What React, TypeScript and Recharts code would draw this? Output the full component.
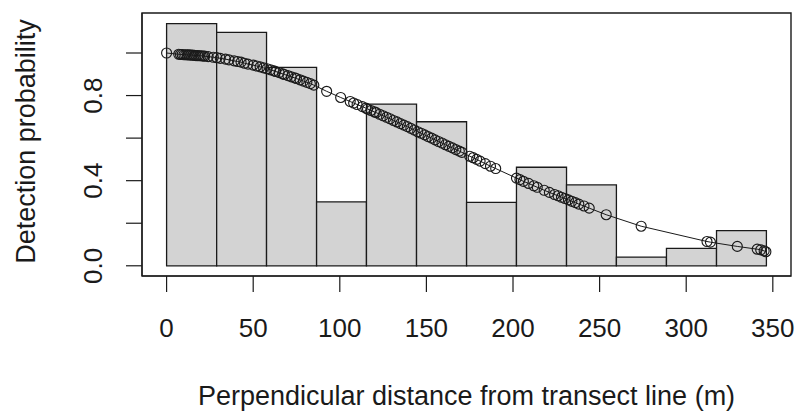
import React from 'react';
import { ComposedChart, Scatter, XAxis, YAxis, ReferenceArea } from 'recharts';

// Histogram of scaled detection counts (bin edges in metres)
const binEdges = [0, 28.9, 57.7, 86.6, 115.4, 144.3, 173.2, 202.0, 230.9, 259.7, 288.6, 317.5, 346.3];
const binHeights = [1.138, 1.097, 0.932, 0.300, 0.760, 0.677, 0.298, 0.463, 0.380, 0.041, 0.082, 0.165];

// Observed perpendicular distances and fitted detection probabilities
const distances = [
  0, 7, 8, 9, 10, 11, 12, 13, 14, 15, 16, 17, 18, 19, 20, 21, 22, 24, 27, 29, 31, 34, 36, 39, 41, 43, 45, 47,
  50, 52, 54, 56, 58, 60, 62, 63, 65, 67, 68, 70, 72, 74, 75, 77, 79, 81, 83, 85, 92.4, 100.5, 106, 108, 110,
  113, 115, 116, 118, 120, 121, 123, 125, 127, 129, 131, 133, 135, 137, 139, 141, 143, 145, 147, 149, 151, 153,
  155, 157, 159, 161, 163, 165, 167, 169, 170.5, 175, 177, 179, 181, 184, 187, 190, 202, 204, 206, 209, 212,
  214, 218, 221, 224, 226, 228, 230, 232, 234, 236, 238, 241, 244, 253.8, 274, 312, 314, 329.5, 341, 343, 345,
  346,
];
const detProb = [
  1.0, 0.994, 0.993, 0.993, 0.992, 0.992, 0.991, 0.991, 0.99, 0.99, 0.989, 0.988, 0.988, 0.987, 0.987, 0.986,
  0.985, 0.983, 0.98, 0.978, 0.975, 0.971, 0.968, 0.963, 0.96, 0.957, 0.952, 0.948, 0.943, 0.939, 0.935, 0.93,
  0.926, 0.921, 0.916, 0.913, 0.908, 0.902, 0.899, 0.894, 0.888, 0.883, 0.88, 0.874, 0.868, 0.862, 0.856, 0.849,
  0.82, 0.791, 0.772, 0.765, 0.758, 0.748, 0.741, 0.737, 0.73, 0.723, 0.72, 0.712, 0.705, 0.698, 0.691, 0.683,
  0.676, 0.668, 0.661, 0.654, 0.646, 0.638, 0.63, 0.623, 0.615, 0.607, 0.6, 0.592, 0.584, 0.577, 0.569, 0.561,
  0.554, 0.546, 0.539, 0.533, 0.515, 0.508, 0.5, 0.492, 0.48, 0.468, 0.457, 0.412, 0.405, 0.397, 0.387, 0.376,
  0.369, 0.355, 0.345, 0.335, 0.329, 0.322, 0.316, 0.31, 0.303, 0.297, 0.29, 0.281, 0.271, 0.24, 0.186, 0.114,
  0.111, 0.091, 0.078, 0.075, 0.07, 0.066,
];

const xTicks = [0, 50, 100, 150, 200, 250, 300, 350];
const yTicks = [0, 0.2, 0.4, 0.6, 0.8, 1.0];
const yTickLabels = ['0.0', '', '0.4', '', '0.8', ''];

const xTitle = 'Perpendicular distance from transect line (m)';
const yTitle = 'Detection probability';

const points = distances.map((d, i) => ({ x: d, y: detProb[i] }));

const FONT = '"Liberation Sans", Arial, sans-serif';
const INK = '#1a1a1a';
const xDomain: [number, number] = [-14.2, 360.5];
const yDomain: [number, number] = [-0.048, 1.188];

const XTick = (props: any) => {
  const { x, y, payload } = props;
  return (
    <text x={x} y={y + 44.7} textAnchor="middle" fontFamily={FONT} fontSize={26} fill={INK}>
      {String(payload.value)}
    </text>
  );
};

const YTick = (props: any) => {
  const { x, y, payload } = props;
  const idx = yTicks.indexOf(payload.value);
  const label = idx >= 0 ? yTickLabels[idx] : '';
  if (!label) return null;
  const bx = x - 24.3;
  return (
    <text
      x={bx}
      y={y}
      transform={`rotate(-90 ${bx} ${y})`}
      textAnchor="middle"
      fontFamily={FONT}
      fontSize={26}
      fill={INK}
    >
      {label}
    </text>
  );
};

const Circle = (props: any) => {
  const { cx, cy } = props;
  if (cx == null || cy == null) return null;
  return <circle cx={cx} cy={cy} r={5} fill="none" stroke={INK} strokeWidth={1.15} />;
};

export default function App() {
  return (
    <div style={{ position: 'absolute', left: 8, top: 8, width: 790, height: 405 }}>
      <ComposedChart
        width={790}
        height={405}
        data={points}
        margin={{ top: 5, right: 7, left: 0, bottom: 0 }}
      >
        <XAxis
          xAxisId="bottom"
          dataKey="x"
          type="number"
          domain={xDomain}
          ticks={xTicks}
          allowDataOverflow
          height={137}
          tickSize={16}
          tickMargin={0}
          tick={<XTick />}
          tickLine={{ stroke: INK, strokeWidth: 1.2 }}
          axisLine={{ stroke: INK, strokeWidth: 1.2 }}
          label={{
            content: (p: any) => {
              const vb = p.viewBox || { x: 134, y: 268, width: 649, height: 137 };
              const cx = vb.x + vb.width / 2;
              return (
                <text x={cx} y={vb.y + 129} textAnchor="middle" fontFamily={FONT} fontSize={27} fill={INK}>
                  {xTitle}
                </text>
              );
            },
          }}
        />
        <YAxis
          yAxisId="left"
          type="number"
          domain={yDomain}
          ticks={yTicks}
          allowDataOverflow
          width={134}
          tickSize={16}
          tickMargin={0}
          tick={<YTick />}
          tickLine={{ stroke: INK, strokeWidth: 1.2 }}
          axisLine={{ stroke: INK, strokeWidth: 1.2 }}
          label={{
            content: (p: any) => {
              const vb = p.viewBox || { x: 0, y: 5, width: 134, height: 263 };
              const lx = vb.x + 27;
              const ly = vb.y + vb.height / 2 - 3;
              return (
                <text
                  x={lx}
                  y={ly}
                  transform={`rotate(-90 ${lx} ${ly})`}
                  textAnchor="middle"
                  fontFamily={FONT}
                  fontSize={27}
                  fill={INK}
                >
                  {yTitle}
                </text>
              );
            },
          }}
        />
        {/* plot frame (R box) */}
        <ReferenceArea
          xAxisId="bottom"
          yAxisId="left"
          x1={xDomain[0]}
          x2={xDomain[1]}
          y1={yDomain[0]}
          y2={yDomain[1]}
          fill="none"
          stroke={INK}
          strokeWidth={1.4}
          ifOverflow="visible"
        />
        {binHeights.map((h, i) => (
          <ReferenceArea
            key={i}
            xAxisId="bottom"
            yAxisId="left"
            x1={binEdges[i]}
            x2={binEdges[i + 1]}
            y1={0}
            y2={h}
            fill="#d3d3d3"
            fillOpacity={1}
            stroke={INK}
            strokeWidth={1.3}
            ifOverflow="visible"
          />
        ))}
        <Scatter
          xAxisId="bottom"
          yAxisId="left"
          data={points}
          dataKey="y"
          shape={<Circle />}
          line={{ stroke: INK, strokeWidth: 1 }}
          lineType="joint"
          isAnimationActive={false}
        />
      </ComposedChart>
    </div>
  );
}
